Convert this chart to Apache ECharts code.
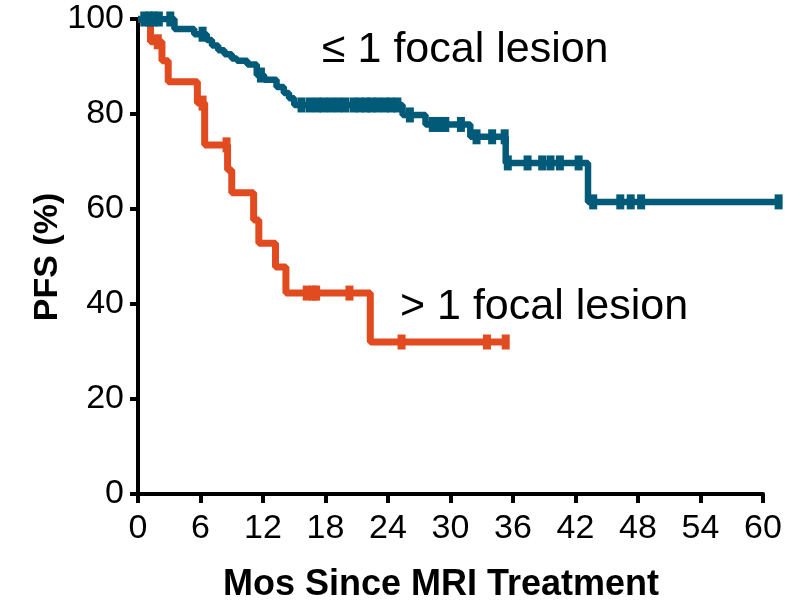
<!DOCTYPE html>
<html>
<head>
<meta charset="utf-8">
<script src="https://cdn.jsdelivr.net/npm/echarts@6/dist/echarts.min.js"></script>
<style>
html,body{margin:0;padding:0;background:#fff;}
#chart{width:805px;height:606px;}
</style>
</head>
<body>
<div id="chart"></div>
<script>
// Kaplan-Meier step data (months, PFS %)
const blueTimes = [0, 3.5, 5.4, 6.6, 7.1, 7.7, 8.3, 9.0, 9.5, 10.5, 11.4, 12.1, 13.3, 14.0, 14.5, 15.0, 25.4, 27.6, 31.9, 35.3, 43.2];
const blueSurv  = [100, 97.9, 96.8, 95.6, 94.4, 93.4, 92.6, 91.7, 91.2, 90.4, 88.2, 87.2, 85.7, 84.4, 83.3, 81.9, 79.8, 77.8, 75.2, 69.7, 61.5];
const blueCensor = [0.6, 1.1, 1.5, 2.0, 3.1, 6.2, 11.8, 15.7, 16.5, 17.2, 17.8, 18.5, 19.2, 19.9, 20.7, 21.3, 21.9, 22.4, 23.0, 23.7, 24.3, 24.9, 26.1, 28.3, 29.0, 29.5, 31.0, 32.5, 34.0, 35.2, 35.5, 37.4, 38.8, 39.6, 40.5, 42.3, 43.7, 46.3, 47.3, 48.3, 61.5];

const redTimes = [0, 1.2, 2.3, 2.9, 5.7, 6.4, 8.6, 9.0, 11.1, 11.6, 13.2, 14.2, 22.3];
const redSurv  = [100, 95.2, 91.2, 86.8, 82.3, 73.5, 68.2, 63.4, 57.7, 52.8, 47.8, 42.3, 32.0];
const redCensor = [1.9, 6.2, 8.5, 16.2, 16.8, 17.1, 20.3, 25.3, 33.5, 35.3];

const xTicks = [0, 6, 12, 18, 24, 30, 36, 42, 48, 54, 60];
const yTicks = [0, 20, 40, 60, 80, 100];
const xDataMax = 62; // curves run a little past the last tick

const labelTop = '\u2264 1 focal lesion';
const labelBottom = '> 1 focal lesion';
const xTitle = 'Mos Since MRI Treatment';
const yTitle = 'PFS (%)';

const BLUE = '#005a78';
const RED = '#e24a1f';

function survAt(times, surv, t) {
  let s = surv[0];
  for (let i = 0; i < times.length; i++) { if (times[i] <= t) s = surv[i]; }
  return s;
}
function stepLine(times, surv, censor) {
  const pts = times.map((t, i) => [t, surv[i]]);
  const end = Math.max.apply(null, censor);
  pts.push([end, survAt(times, surv, end)]);
  return pts;
}
function censorPts(times, surv, censor) {
  return censor.map(t => [t, survAt(times, surv, t)]);
}

const chart = echarts.init(document.getElementById('chart'), null, {renderer: 'canvas'});
const FONT = '"Liberation Sans", Arial, sans-serif';

const LEFT = 138, RIGHT = 42, TOP = 19, BOTTOM = 112;
const plotW = 805 - LEFT - RIGHT;
const rightData = RIGHT - plotW * (xDataMax - xTicks[xTicks.length - 1]) / (xTicks[xTicks.length - 1] - xTicks[0]);

chart.setOption({
  animation: false,
  backgroundColor: '#fff',
  grid: [
    {left: LEFT, right: RIGHT, top: TOP, bottom: BOTTOM},
    {left: LEFT, right: rightData, top: TOP, bottom: BOTTOM}
  ],
  xAxis: [
    {
      gridIndex: 0, type: 'value', min: xTicks[0], max: xTicks[xTicks.length - 1], interval: 6,
      axisLine: {onZero: false, lineStyle: {color: '#000', width: 4}},
      axisTick: {show: true, length: 9, lineStyle: {color: '#000', width: 4}},
      axisLabel: {color: '#000', fontSize: 34, fontFamily: FONT, margin: 18},
      splitLine: {show: false}
    },
    {
      gridIndex: 1, type: 'value', min: xTicks[0], max: xDataMax, show: false, splitLine: {show: false}
    }
  ],
  yAxis: [
    {
      gridIndex: 0, type: 'value', min: yTicks[0], max: yTicks[yTicks.length - 1], interval: 20,
      axisLine: {show: true, lineStyle: {color: '#000', width: 4}},
      axisTick: {show: true, length: 8, lineStyle: {color: '#000', width: 4}},
      axisLabel: {color: '#000', fontSize: 34, fontFamily: FONT, margin: 14},
      splitLine: {show: false}
    },
    {
      gridIndex: 1, type: 'value', min: yTicks[0], max: yTicks[yTicks.length - 1], show: false, splitLine: {show: false}
    }
  ],
  graphic: [
    {type: 'text', left: 322, top: 29, style: {text: labelTop, fill: '#000', font: '43px ' + FONT}},
    {type: 'text', left: 400, top: 286, style: {text: labelBottom, fill: '#000', font: '43px ' + FONT}},
    {type: 'text', x: 441, y: 585, style: {text: xTitle, fill: '#000', font: 'bold 36px ' + FONT, textAlign: 'center', textVerticalAlign: 'middle'}},
    {type: 'text', x: 48, y: 257, rotation: Math.PI / 2, style: {text: yTitle, fill: '#000', font: 'bold 34px ' + FONT, textAlign: 'center', textVerticalAlign: 'middle'}}
  ],
  series: [
    {type: 'line', xAxisIndex: 1, yAxisIndex: 1, step: 'end', data: stepLine(redTimes, redSurv, redCensor), showSymbol: false,
     lineStyle: {color: RED, width: 7}, itemStyle: {color: RED}, z: 3},
    {type: 'scatter', xAxisIndex: 1, yAxisIndex: 1, data: censorPts(redTimes, redSurv, redCensor), symbol: 'rect', symbolSize: [8, 15], clip: false,
     itemStyle: {color: RED, opacity: 1}, z: 4},
    {type: 'line', xAxisIndex: 1, yAxisIndex: 1, step: 'end', data: stepLine(blueTimes, blueSurv, blueCensor), showSymbol: false,
     lineStyle: {color: BLUE, width: 6.5}, itemStyle: {color: BLUE}, z: 5},
    {type: 'scatter', xAxisIndex: 1, yAxisIndex: 1, data: censorPts(blueTimes, blueSurv, blueCensor), symbol: 'rect', symbolSize: [8, 15], clip: false,
     itemStyle: {color: BLUE, opacity: 1}, z: 6}
  ]
});
</script>
</body>
</html>
